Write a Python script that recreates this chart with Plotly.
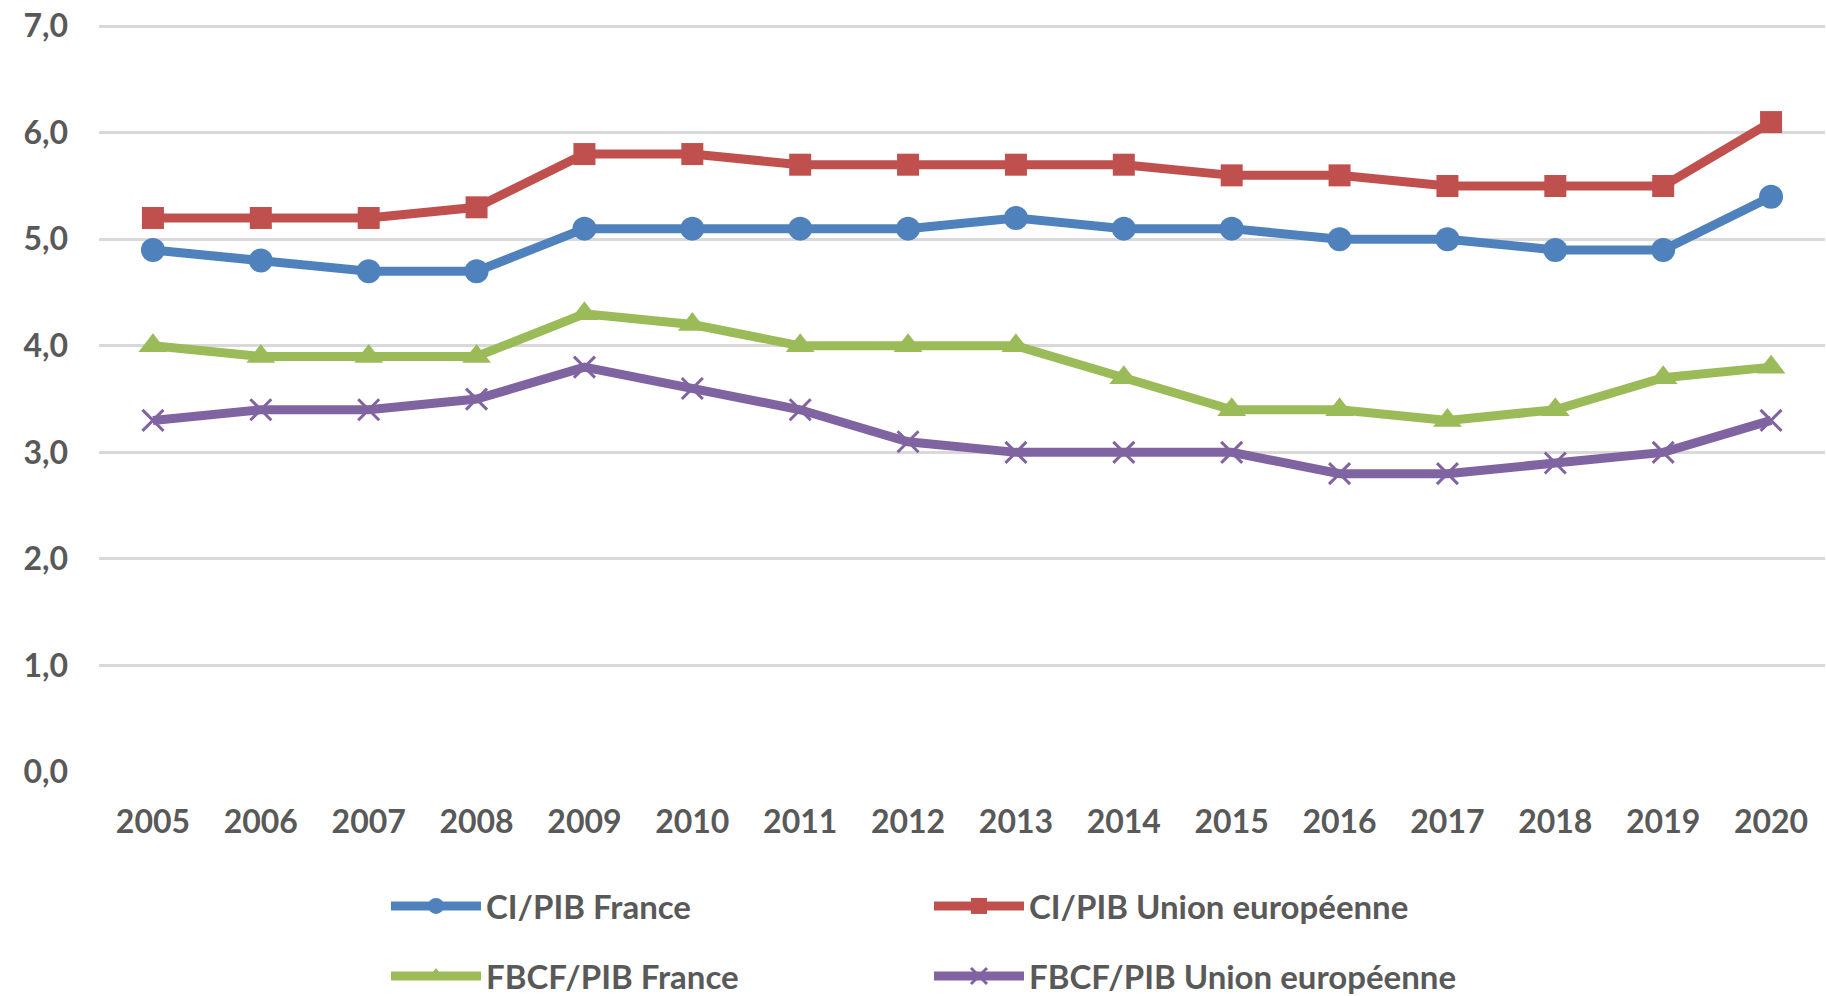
import plotly.graph_objects as go

years = ["2005", "2006", "2007", "2008", "2009", "2010", "2011", "2012",
         "2013", "2014", "2015", "2016", "2017", "2018", "2019", "2020"]
ci_france = [4.9, 4.8, 4.7, 4.7, 5.1, 5.1, 5.1, 5.1, 5.2, 5.1, 5.1, 5.0, 5.0, 4.9, 4.9, 5.4]
ci_ue = [5.2, 5.2, 5.2, 5.3, 5.8, 5.8, 5.7, 5.7, 5.7, 5.7, 5.6, 5.6, 5.5, 5.5, 5.5, 6.1]
fbcf_france = [4.0, 3.9, 3.9, 3.9, 4.3, 4.2, 4.0, 4.0, 4.0, 3.7, 3.4, 3.4, 3.3, 3.4, 3.7, 3.8]
fbcf_ue = [3.3, 3.4, 3.4, 3.5, 3.8, 3.6, 3.4, 3.1, 3.0, 3.0, 3.0, 2.8, 2.8, 2.9, 3.0, 3.3]
y_ticks = [0, 1, 2, 3, 4, 5, 6, 7]
y_tick_labels = ["0,0", "1,0", "2,0", "3,0", "4,0", "5,0", "6,0", "7,0"]

W, H = 1826, 996
FONT = "Lato, 'Open Sans', sans-serif"
TXT = "#595959"

series = [
    ("CI/PIB France", ci_france, "#4F81BD", "circle", 24, "legend"),
    ("CI/PIB Union européenne", ci_ue, "#C0504D", "square", 22, "legend"),
    ("FBCF/PIB France", fbcf_france, "#9BBB59", "triangle-up", 25, "legend2"),
    ("FBCF/PIB Union européenne", fbcf_ue, "#8064A2", "x-thin", 21, "legend2"),
]

fig = go.Figure()
for name, vals, color, sym, size, leg in series:
    marker = dict(symbol=sym, size=size, color=color)
    if sym == "x-thin":
        marker["line"] = dict(color=color, width=3)
    fig.add_trace(go.Scatter(
        x=years, y=vals, name=name, mode="lines+markers",
        line=dict(color=color, width=9),
        marker=marker, legend=leg,
    ))

leg_common = dict(
    orientation="h", xref="container", yref="container",
    xanchor="left", yanchor="middle",
    entrywidth=438, entrywidthmode="pixels", itemwidth=90,
    font=dict(family=FONT, size=33, color=TXT, weight="bold"),
    bgcolor="rgba(0,0,0,0)", traceorder="normal",
)

fig.update_layout(
    width=W, height=H,
    margin=dict(l=99, r=1, t=23, b=224, autoexpand=False),
    paper_bgcolor="white", plot_bgcolor="white",
    font=dict(family=FONT, color=TXT),
    legend=dict(x=386 / W, y=1 - 906 / H, **leg_common),
    legend2=dict(x=386 / W, y=1 - 976 / H, **leg_common),
    xaxis=dict(
        type="category", range=[-0.5, 15.5], automargin=False,
        showgrid=False, zeroline=False, showline=False,
        ticks="", ticklabelstandoff=28,
        tickfont=dict(family=FONT, size=32, color=TXT, weight="bold"),
    ),
    yaxis=dict(
        range=[0, 7.03], tickvals=y_ticks, ticktext=y_tick_labels,
        automargin=False,
        showgrid=True, gridcolor="#D9D9D9", gridwidth=3,
        zeroline=False, showline=False, ticks="", ticklabelstandoff=30,
        ticklabeloverflow="allow",
        tickfont=dict(family=FONT, size=32, color=TXT, weight="bold"),
    ),
)

fig.write_html(
    "out.html",
    config={"displayModeBar": False},
    post_script="document.body.style.margin='0';document.body.style.overflow='hidden';",
)
